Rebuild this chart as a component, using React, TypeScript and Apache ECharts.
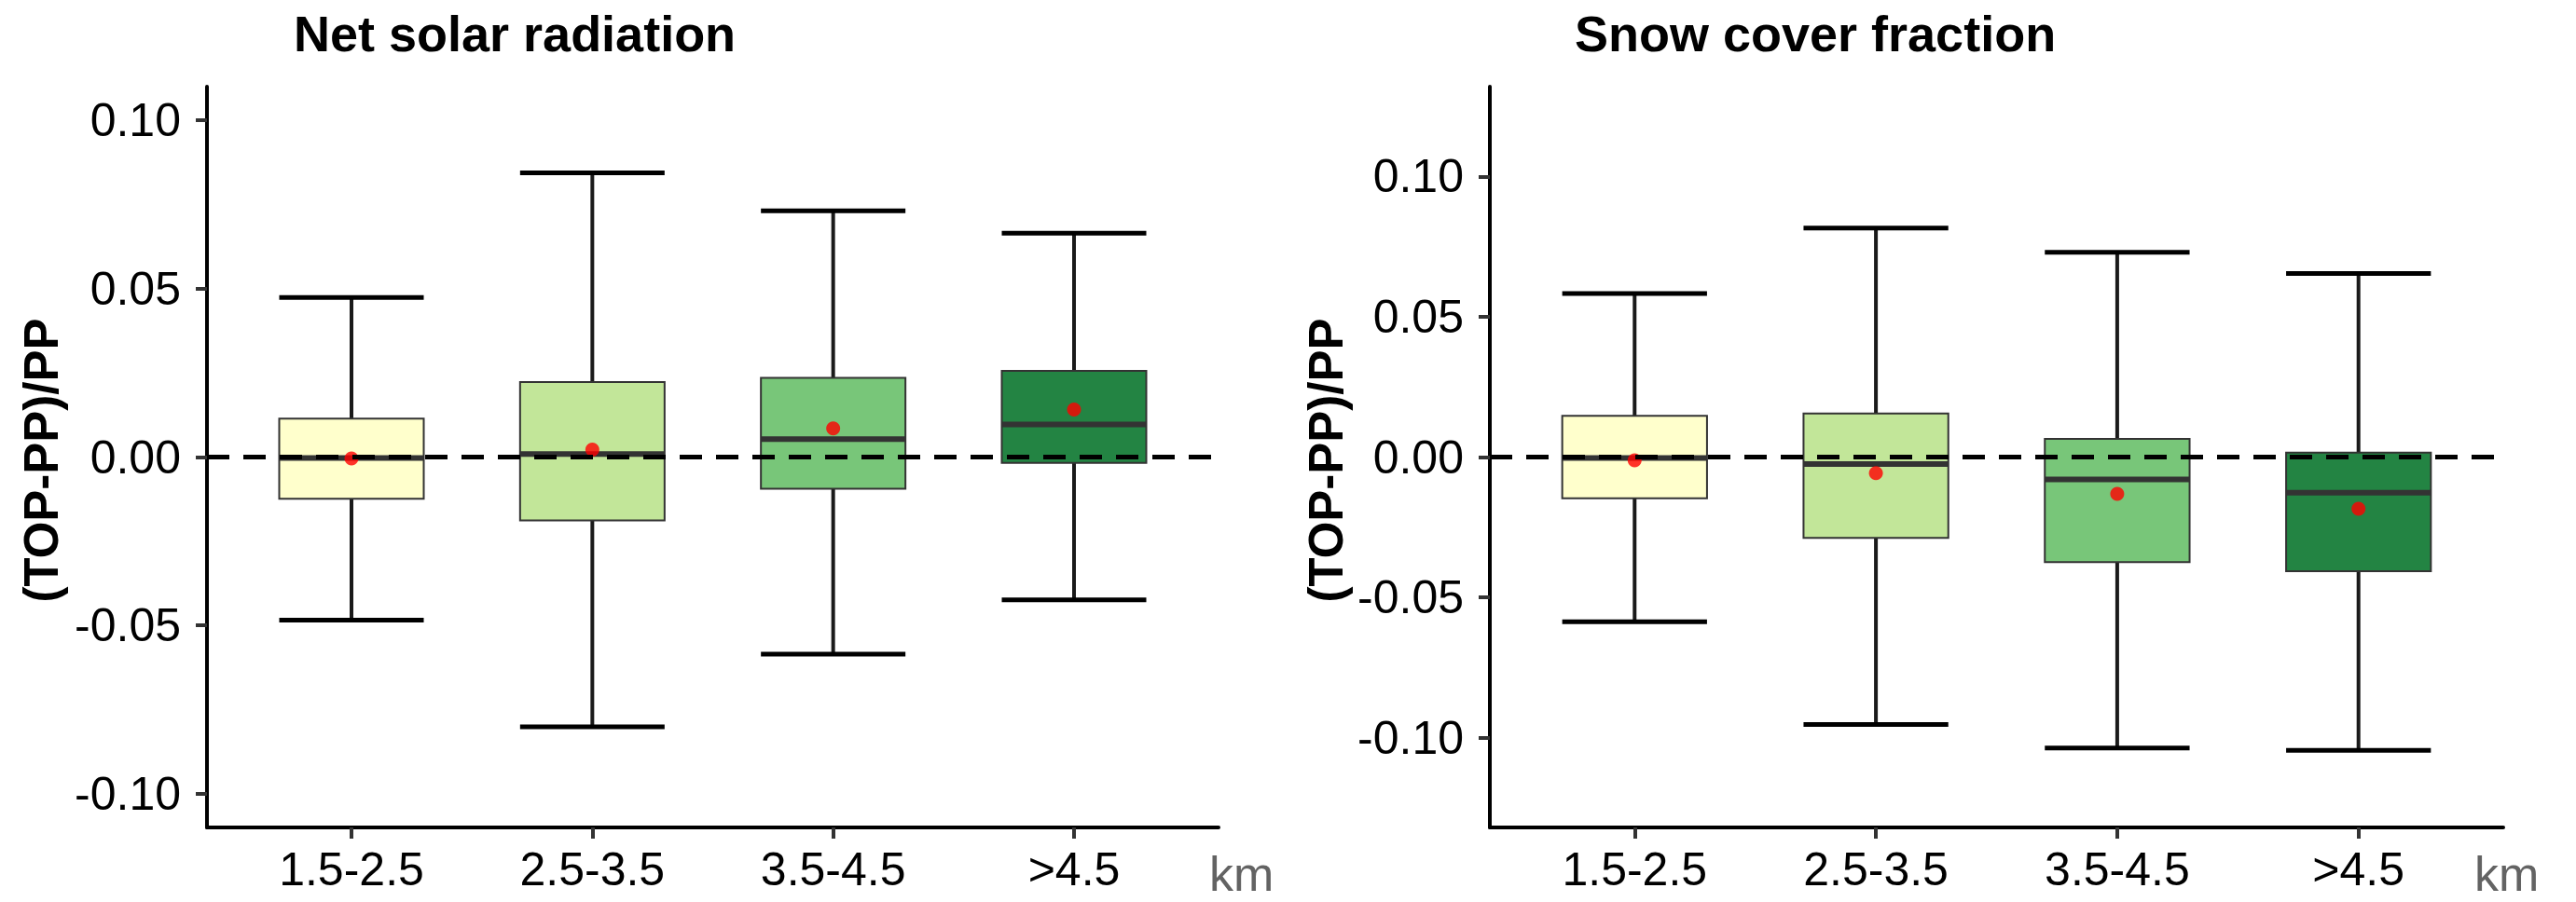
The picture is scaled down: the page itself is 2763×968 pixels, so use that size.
import React, { useEffect, useRef } from "react";
import * as echarts from "echarts";

const categories = ["1.5-2.5", "2.5-3.5", "3.5-4.5", ">4.5"];
const xPositions = [1, 2, 3, 4];
const boxColors = ["#FFFFCC", "#C2E699", "#78C679", "#238443"];
const yTicks = [-0.1, -0.05, 0, 0.05, 0.1];

// Net solar radiation
const solarLow = [-0.0484, -0.0801, -0.0585, -0.0424];
const solarQ1 = [-0.0124, -0.0188, -0.0094, -0.0017];
const solarMedian = [-0.0003, 0.0009, 0.0053, 0.0097];
const solarQ3 = [0.0114, 0.0223, 0.0235, 0.0256];
const solarHigh = [0.0474, 0.0844, 0.0731, 0.0665];
const solarMean = [-0.0004, 0.0022, 0.0085, 0.0141];

// Snow cover fraction
const snowLow = [-0.0587, -0.0953, -0.1037, -0.1045];
const snowQ1 = [-0.0147, -0.0288, -0.0374, -0.0407];
const snowMedian = [-0.0003, -0.0025, -0.008, -0.0127];
const snowQ3 = [0.0147, 0.0155, 0.0065, 0.0016];
const snowHigh = [0.0583, 0.0816, 0.073, 0.0654];
const snowMean = [-0.0012, -0.0057, -0.0131, -0.0184];

const FONT = "'Liberation Sans', Arial, sans-serif";

function boxData(lo: number[], q1: number[], med: number[], q3: number[], hi: number[]) {
  return xPositions.map((x, i) => [x, lo[i], q1[i], med[i], q3[i], hi[i]]);
}

function renderBox(params: any, api: any) {
  const x = api.value(0);
  const pLo = api.coord([x, api.value(1)]);
  const pQ1 = api.coord([x, api.value(2)]);
  const pMed = api.coord([x, api.value(3)]);
  const pQ3 = api.coord([x, api.value(4)]);
  const pHi = api.coord([x, api.value(5)]);
  const w = api.size([0.6, 0])[0];
  const cx = pMed[0];
  const left = cx - w / 2;
  const right = cx + w / 2;
  return {
    type: "group",
    children: [
      { type: "line", shape: { x1: cx, y1: pHi[1], x2: cx, y2: pQ3[1] }, style: { stroke: "#1a1a1a", lineWidth: 4 } },
      { type: "line", shape: { x1: cx, y1: pQ1[1], x2: cx, y2: pLo[1] }, style: { stroke: "#1a1a1a", lineWidth: 4 } },
      { type: "line", shape: { x1: left, y1: pHi[1], x2: right, y2: pHi[1] }, style: { stroke: "#000", lineWidth: 5 } },
      { type: "line", shape: { x1: left, y1: pLo[1], x2: right, y2: pLo[1] }, style: { stroke: "#000", lineWidth: 5 } },
      {
        type: "rect",
        shape: { x: left, y: pQ3[1], width: w, height: pQ1[1] - pQ3[1] },
        style: { fill: boxColors[params.dataIndex], stroke: "#333333", lineWidth: 2 },
      },
      { type: "line", shape: { x1: left, y1: pMed[1], x2: right, y2: pMed[1] }, style: { stroke: "#333333", lineWidth: 6 } },
    ],
  };
}

function xAxisCfg(gridIndex: number) {
  return {
    type: "value",
    gridIndex,
    min: 0.4,
    max: 4.6,
    splitLine: { show: false },
    axisLine: { show: true, onZero: false, lineStyle: { color: "#000", width: 4 } },
    axisTick: { show: true, customValues: xPositions, length: 12, lineStyle: { color: "#333", width: 4 } },
    axisLabel: {
      customValues: xPositions,
      formatter: (v: number) => categories[Math.round(v) - 1] ?? "",
      fontSize: 50,
      fontFamily: FONT,
      color: "#000",
      margin: 20,
    },
  };
}

function yAxisCfg(gridIndex: number, lim: number) {
  return {
    type: "value",
    gridIndex,
    min: -lim,
    max: lim,
    splitLine: { show: false },
    axisLine: { show: true, onZero: false, lineStyle: { color: "#000", width: 4 } },
    axisTick: { show: true, customValues: yTicks, length: 12, lineStyle: { color: "#333", width: 4 } },
    axisLabel: {
      customValues: yTicks,
      formatter: (v: number) => v.toFixed(2),
      fontSize: 50,
      fontFamily: FONT,
      color: "#000",
      margin: 28,
    },
  };
}

function panelSeries(idx: number, data: number[][], means: number[]) {
  return [
    {
      type: "custom",
      xAxisIndex: idx,
      yAxisIndex: idx,
      z: 2,
      clip: false,
      renderItem: renderBox,
      encode: { x: 0, y: [1, 2, 3, 4, 5] },
      data,
    },
    {
      type: "line",
      xAxisIndex: idx,
      yAxisIndex: idx,
      z: 3,
      data: [],
      markLine: {
        silent: true,
        symbol: ["none", "none"],
        label: { show: false },
        lineStyle: { color: "#000", width: 5, type: [24, 15] },
        data: [{ yAxis: 0 }],
      },
    },
    {
      type: "scatter",
      xAxisIndex: idx,
      yAxisIndex: idx,
      z: 4,
      symbol: "circle",
      symbolSize: 15,
      itemStyle: { color: "#FF0000" },
      data: xPositions.map((x, i) => [x, means[i]]),
    },
  ];
}

const yTitleStyle = { text: "(TOP-PP)/PP", fontSize: 51, fontWeight: "bold", fontFamily: FONT, fill: "#000", align: "center", verticalAlign: "middle" };
const kmStyle = { text: "km", fontSize: 52, lineHeight: 38, fontFamily: FONT, fill: "#636363", align: "left", verticalAlign: "middle" };

export default function App() {
  const ref = useRef<HTMLDivElement>(null);
  useEffect(() => {
    if (!ref.current) return;
    const chart = echarts.init(ref.current, undefined, { renderer: "svg" });
    chart.setOption({
      animation: false,
      backgroundColor: "#fff",
      textStyle: { fontFamily: FONT },
      title: [
        { text: "Net solar radiation", left: 310, top: 4, textStyle: { fontSize: 54, fontWeight: "bold", color: "#000", fontFamily: FONT } },
        { text: "Snow cover fraction", left: 1684, top: 4, textStyle: { fontSize: 54, fontWeight: "bold", color: "#000", fontFamily: FONT } },
      ],
      grid: [
        { left: 222, top: 93, width: 1085, height: 795 },
        { left: 1598, top: 93, width: 1087, height: 795 },
      ],
      xAxis: [xAxisCfg(0), xAxisCfg(1)],
      yAxis: [yAxisCfg(0, 0.11), yAxisCfg(1, 0.132)],
      series: [
        ...panelSeries(0, boxData(solarLow, solarQ1, solarMedian, solarQ3, solarHigh), solarMean),
        ...panelSeries(1, boxData(snowLow, snowQ1, snowMedian, snowQ3, snowHigh), snowMean),
      ],
      graphic: [
        { type: "text", x: 44, y: 494, rotation: Math.PI / 2, style: yTitleStyle },
        { type: "text", x: 1422, y: 494, rotation: Math.PI / 2, style: yTitleStyle },
        { type: "text", x: 1297, y: 938, style: kmStyle },
        { type: "text", x: 2654, y: 938, style: kmStyle },
      ],
    });
    return () => chart.dispose();
  }, []);
  return <div ref={ref} style={{ position: "absolute", left: 0, top: 0, width: 2763, height: 968 }} />;
}
